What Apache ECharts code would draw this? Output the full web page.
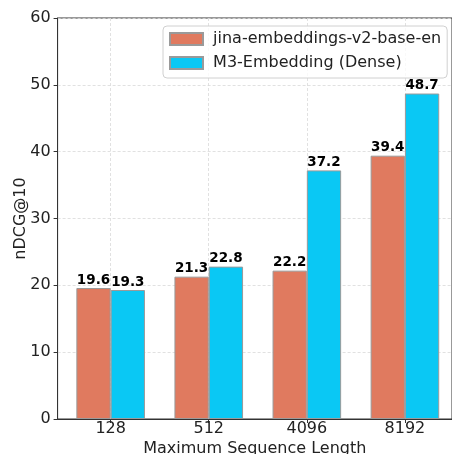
<!DOCTYPE html>
<html><head><meta charset="utf-8">
<script src="https://cdn.jsdelivr.net/npm/echarts@6/dist/echarts.min.js"></script>
<style>html,body{margin:0;padding:0;background:#fff}#c{width:452px;height:454px}</style>
</head><body><div id="c"></div>
<script>
const categories = ['128', '512', '4096', '8192'];
const jinaValues = [19.6, 21.3, 22.2, 39.4];
const m3Values = [19.3, 22.8, 37.2, 48.7];
const seriesNames = ['jina-embeddings-v2-base-en', 'M3-Embedding (Dense)'];
const yTicks = [0, 10, 20, 30, 40, 50, 60];

const font = 'DejaVu Sans';
const chart = echarts.init(document.getElementById('c'), null, {renderer: 'canvas'});
const idx = categories.map((_, i) => i);
const toData = vals => vals.map((v, i) => [i, v]);
const labelCfg = {show: true, position: 'top', distance: 1, fontFamily: font, fontWeight: 'bold', fontSize: 13.5, color: '#000', formatter: p => p.value[1].toFixed(1)};
const gridLine = {color: '#d9d9d9', type: [3, 2], width: 0.8};

chart.setOption({
  animation: false,
  textStyle: {fontFamily: font},
  grid: {left: 57.6, right: 0, top: 18, bottom: 35, outerBoundsMode: 'none', containLabel: false,
         show: true, borderColor: '#333', borderWidth: 1},
  legend: {
    orient: 'vertical', left: 163, top: 26, padding: [5, 6, 7, 6],
    backgroundColor: 'rgba(255,255,255,0.8)', borderColor: '#d0d0d0', borderWidth: 1, borderRadius: 4,
    itemWidth: 33, itemHeight: 12, itemGap: 8, icon: 'rect',
    textStyle: {fontFamily: font, fontSize: 16, color: '#222'},
    formatter: n => ' ' + n,
    data: seriesNames
  },
  xAxis: {
    type: 'value', min: -0.541, max: 3.48,
    name: 'Maximum Sequence Length', nameLocation: 'middle', nameGap: 22, nameMoveOverlap: false,
    nameTextStyle: {fontFamily: font, fontSize: 16, color: '#222'},
    axisLine: {onZero: false, lineStyle: {color: '#333'}},
    axisTick: {show: true, length: 4, customValues: idx, lineStyle: {color: '#333'}},
    axisLabel: {customValues: idx, fontFamily: font, fontSize: 16, color: '#222', margin: 2, formatter: v => categories[Math.round(v)]},
    splitLine: {show: true, lineStyle: gridLine}
  },
  yAxis: {
    type: 'value', min: 0, max: 60, interval: 10,
    name: 'nDCG@10', nameLocation: 'middle', nameGap: 29, nameMoveOverlap: false,
    nameTextStyle: {fontFamily: font, fontSize: 16, color: '#222'},
    axisLine: {show: true, onZero: false, lineStyle: {color: '#333'}},
    axisTick: {show: true, length: 4, lineStyle: {color: '#333'}},
    axisLabel: {fontFamily: font, fontSize: 16, color: '#222', margin: 7, formatter: v => yTicks.includes(v) ? String(v) : ''},
    splitLine: {show: true, lineStyle: gridLine}
  },
  series: [
    {
      name: seriesNames[0], type: 'bar', data: toData(jinaValues), barWidth: 34.3, barGap: '0%',
      itemStyle: {color: '#E07A5F', borderColor: '#9a9a9a', borderWidth: 1},
      label: labelCfg
    },
    {
      name: seriesNames[1], type: 'bar', data: toData(m3Values), barWidth: 34.3, barGap: '0%',
      itemStyle: {color: '#0AC8F4', borderColor: '#9a9a9a', borderWidth: 1},
      label: labelCfg
    }
  ]
});
</script></body></html>
